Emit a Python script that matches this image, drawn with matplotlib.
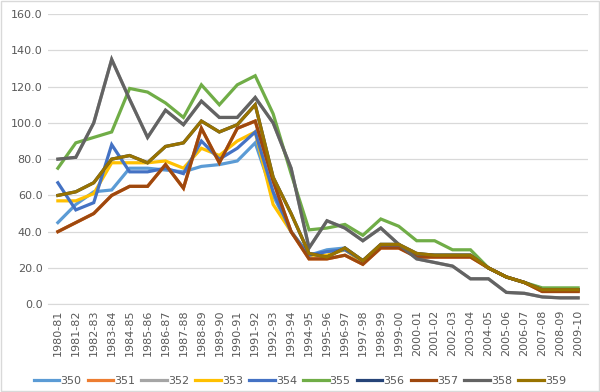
import matplotlib.pyplot as plt
from matplotlib.ticker import MultipleLocator, FormatStrFormatter

years = ["1980-81", "1981-82", "1982-83", "1983-84", "1984-85", "1985-86", "1986-87", "1987-88",
         "1988-89", "1989-90", "1990-91", "1991-92", "1992-93", "1993-94", "1994-95", "1995-96",
         "1996-97", "1997-98", "1998-99", "1999-00", "2000-01", "2001-02", "2002-03", "2003-04",
         "2004-05", "2005-06", "2006-07", "2007-08", "2008-09", "2009-10"]

s350 = [45, 55, 62, 63, 75, 75, 74, 73, 76, 77, 79, 89, 60, 40, 27, 30, 31, 24, 32, 32,
        27, 27, 27, 27, 20, 15, 12, 8, 8, 8]
s351 = [40, 45, 50, 60, 65, 65, 77, 64, 97, 78, 97, 101, 68, 40, 25, 25, 27, 22, 31, 31,
        26, 26, 26, 26, 20, 15, 12, 7, 7, 7]
s352 = [80, 81, 100, 135, 113, 92, 107, 99, 112, 103, 103, 114, 100, 75, 31, 46, 42, 35, 42, 33,
        25, 23, 21, 14, 14, 6.5, 6, 4, 3.5, 3.5]
s353 = [57, 57, 61, 78, 78, 78, 79, 75, 86, 82, 90, 95, 55, 40, 27, 27, 30, 23, 32, 32,
        27, 27, 27, 27, 20, 15, 12, 8, 8, 8]
s354 = [67, 52, 56, 88, 73, 73, 75, 72, 90, 80, 86, 95, 62, 40, 27, 29, 30, 24, 32, 32,
        27, 27, 27, 27, 20, 15, 12, 8, 8, 8]
s355 = [75, 89, 92, 95, 119, 117, 111, 103, 121, 110, 121, 126, 105, 72, 41, 42, 44, 38, 47, 43,
        35, 35, 30, 30, 20, 15, 12, 9, 9, 9]
s356 = [60, 62, 67, 80, 82, 78, 87, 89, 101, 95, 99, 110, 70, 50, 28, 26, 31, 24, 33, 33,
        28, 27, 27, 27, 20, 15, 12, 8, 8, 8]
s357 = [40, 45, 50, 60, 65, 65, 77, 64, 97, 78, 97, 101, 68, 40, 25, 25, 27, 22, 31, 31,
        26, 26, 26, 26, 20, 15, 12, 7, 7, 7]
s358 = [80, 81, 100, 135, 113, 92, 107, 99, 112, 103, 103, 114, 100, 75, 31, 46, 42, 35, 42, 33,
        25, 23, 21, 14, 14, 6.5, 6, 4, 3.5, 3.5]
s359 = [60, 62, 67, 80, 82, 78, 87, 89, 101, 95, 99, 110, 70, 50, 28, 26, 31, 24, 33, 33,
        28, 27, 27, 27, 20, 15, 12, 8, 8, 8]

names = ["350", "351", "352", "353", "354", "355", "356", "357", "358", "359"]
series = [s350, s351, s352, s353, s354, s355, s356, s357, s358, s359]
colors = ["#5B9BD5", "#ED7D31", "#A5A5A5", "#FFC000", "#4472C4",
          "#70AD47", "#264478", "#9E480E", "#636363", "#997300"]

fig = plt.figure(figsize=(6, 3.92), dpi=100)
ax = fig.add_axes([0.08, 0.224, 0.90, 0.74])

x = range(len(years))
for name, vals, c in zip(names, series, colors):
    ax.plot(x, vals, color=c, lw=2.3, label=name, solid_joinstyle="miter")

ax.set_ylim(0, 160)
ax.set_xlim(-0.55, len(years) - 0.45)
ax.yaxis.set_major_locator(MultipleLocator(20))
ax.yaxis.set_major_formatter(FormatStrFormatter("%.1f"))
ax.grid(axis="y", color="#D9D9D9", lw=0.9)
ax.set_axisbelow(True)
for s in ["top", "right", "left"]:
    ax.spines[s].set_visible(False)
ax.spines["bottom"].set_color("#D9D9D9")
ax.set_xticks(list(x))
ax.set_xticklabels(years, rotation=90)
ax.tick_params(axis="both", length=0, labelsize=8, colors="#595959", pad=4)

fig.legend(loc="center", bbox_to_anchor=(0.5, 0.028), ncol=10, frameon=False,
           fontsize=8, handlelength=2.3, handletextpad=0.1, columnspacing=0.55,
           borderpad=0.1, labelcolor="#595959")

border = plt.Rectangle((0.002, 0.002), 0.996, 0.996, transform=fig.transFigure,
                       fill=False, edgecolor="#D9D9D9", lw=1)
fig.patches.append(border)

fig.savefig("out.png", dpi=100)
